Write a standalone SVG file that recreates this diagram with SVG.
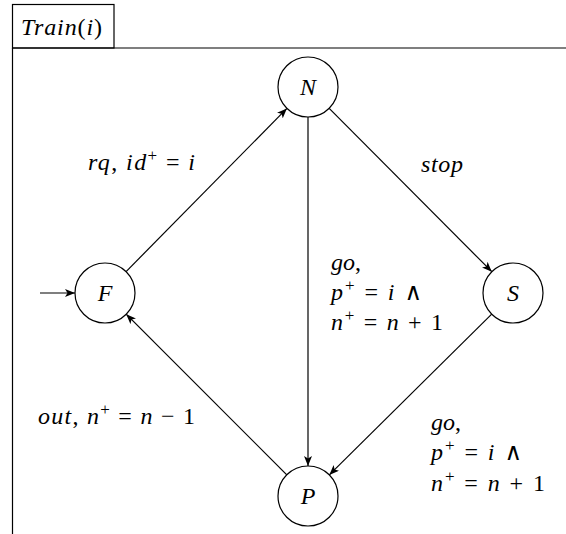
<svg xmlns="http://www.w3.org/2000/svg" width="566" height="534" viewBox="0 0 566 534">
<style>
.t{font-family:"Liberation Serif","Times New Roman",Times,"DejaVu Serif",serif;font-size:24px;fill:#000}
.i{font-style:italic}
.sup{font-size:17px}
.ln{stroke:#000;stroke-width:1.2;fill:none}
.edge{stroke:#000;stroke-width:1.2;fill:none;marker-end:url(#ah)}
.node{fill:#fff;stroke:#000;stroke-width:1.2}
</style>
<defs>
<marker id="ah" viewBox="0 0 10 8" refX="10" refY="4" markerWidth="10" markerHeight="8" markerUnits="userSpaceOnUse" orient="auto">
<path d="M0,0 L10,4 L0,8 L2.5,4 z" fill="#000"/>
</marker>
</defs>
<rect width="566" height="534" fill="#fff"/>
<g id="frame">
<rect class="ln" x="12.5" y="4.5" width="101.5" height="43.5"/>
<line class="ln" x1="12.5" y1="48" x2="566" y2="48"/>
<line class="ln" x1="12.5" y1="48" x2="12.5" y2="534"/>
<text class="t" x="21" y="35" textLength="81" lengthAdjust="spacing"><tspan class="i">Train</tspan>(<tspan class="i">i</tspan>)</text>
</g>
<g id="connectors">
<line class="edge" x1="40" y1="293" x2="75" y2="293"/>
<line class="edge" x1="126.1" y1="271.6" x2="286.9" y2="108.4"/>
<line class="edge" x1="329.2" y1="108.3" x2="491.8" y2="271.7"/>
<line class="edge" x1="308" y1="117" x2="308" y2="466"/>
<line class="edge" x1="491.7" y1="314.1" x2="329.3" y2="474.9"/>
<line class="edge" x1="286.8" y1="474.8" x2="126.2" y2="314.2"/>
<text class="t" x="88" y="170" textLength="107" lengthAdjust="spacing"><tspan class="i">rq</tspan>, <tspan class="i">id</tspan><tspan class="sup" dy="-9">+</tspan><tspan dy="9"> = </tspan><tspan class="i">i</tspan></text>
<text class="t" x="421" y="172" textLength="42" lengthAdjust="spacing"><tspan class="i">stop</tspan></text>
<text class="t" x="331" y="270"><tspan class="i">go</tspan>,</text>
<text class="t" x="331" y="300" textLength="91" lengthAdjust="spacing"><tspan class="i">p</tspan><tspan class="sup" dy="-9">+</tspan><tspan dy="9"> = </tspan><tspan class="i">i</tspan> ∧</text>
<text class="t" x="331" y="330" textLength="112" lengthAdjust="spacing"><tspan class="i">n</tspan><tspan class="sup" dy="-9">+</tspan><tspan dy="9"> = </tspan><tspan class="i">n</tspan> + 1</text>
<text class="t" x="431" y="430"><tspan class="i">go</tspan>,</text>
<text class="t" x="431" y="460" textLength="91" lengthAdjust="spacing"><tspan class="i">p</tspan><tspan class="sup" dy="-9">+</tspan><tspan dy="9"> = </tspan><tspan class="i">i</tspan> ∧</text>
<text class="t" x="431" y="491" textLength="114" lengthAdjust="spacing"><tspan class="i">n</tspan><tspan class="sup" dy="-9">+</tspan><tspan dy="9"> = </tspan><tspan class="i">n</tspan> + 1</text>
<text class="t" x="38" y="424" textLength="157" lengthAdjust="spacing"><tspan class="i">out</tspan>, <tspan class="i">n</tspan><tspan class="sup" dy="-9">+</tspan><tspan dy="9"> = </tspan><tspan class="i">n</tspan> − 1</text>
</g>
<g id="node-N"><circle class="node" cx="308" cy="87" r="30"/><text class="t i" x="308" y="95" text-anchor="middle">N</text></g>
<g id="node-F"><circle class="node" cx="105" cy="293" r="30"/><text class="t i" x="105" y="301" text-anchor="middle">F</text></g>
<g id="node-S"><circle class="node" cx="513" cy="293" r="30"/><text class="t i" x="513" y="301" text-anchor="middle">S</text></g>
<g id="node-P"><circle class="node" cx="308" cy="496" r="30"/><text class="t i" x="308" y="504" text-anchor="middle">P</text></g>
</svg>
